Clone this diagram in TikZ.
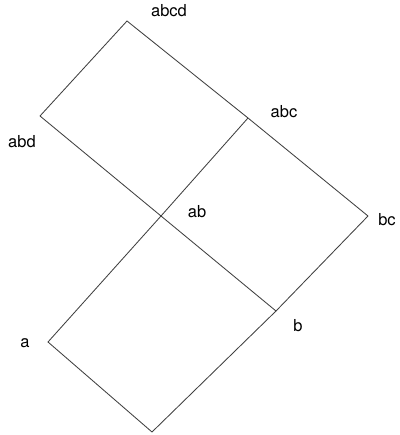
\documentclass[tikz,border=0pt]{standalone}
\usepackage{fontspec}
\setmainfont{TeX Gyre Heros}
\usetikzlibrary{positioning}

\begin{document}
\begin{tikzpicture}[
    x=1pt, y=-1pt,
    edge/.style={draw=black!75, line width=0.85pt},
    vlabel/.style={inner sep=0pt, font=\fontsize{16.5}{20}\selectfont},
]
    \clip (0,0) rectangle (399,435);
    % lattice points
    \coordinate (abcd) at (127,21);
    \coordinate (abd) at (40,116);
    \coordinate (abc) at (248,118);
    \coordinate (ab) at (161,216);
    \coordinate (bc) at (368,216);
    \coordinate (b) at (276,311);
    \coordinate (a) at (48,342);
    \coordinate (bottom) at (152,432);
    % labels
    \node[vlabel] (l-abcd) at (169,11) {abcd};
    \node[vlabel] (l-abd) at (22,142) {abd};
    \node[vlabel] (l-abc) at (284,112) {abc};
    \node[vlabel] (l-ab) at (197,212) {ab};
    \node[vlabel] (l-bc) at (387,220) {bc};
    \node[vlabel] (l-b) at (298,326) {b};
    \node[vlabel] (l-a) at (25,343) {a};
    % edges
    \draw[edge] (abd) -- (abcd) -- (abc) -- (bc);
    \draw[edge] (abd) -- (ab) -- (b) -- (bottom);
    \draw[edge] (abc) -- (ab) -- (a) -- (bottom);
    \draw[edge] (bc) -- (b);
\end{tikzpicture}
\end{document}
